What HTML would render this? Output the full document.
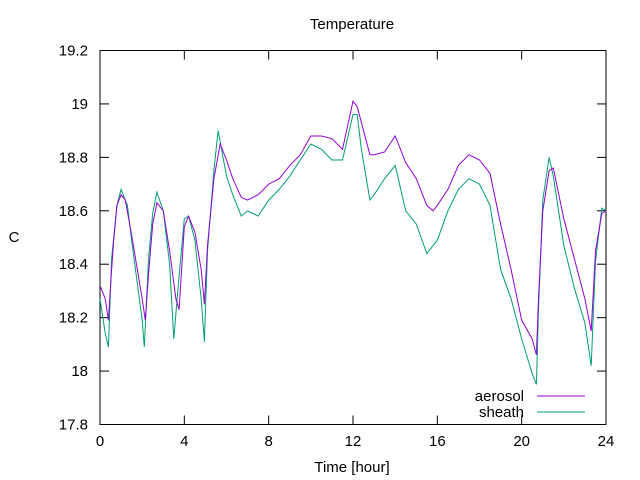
<!DOCTYPE html>
<html><head><meta charset="utf-8"><style>
html,body{margin:0;padding:0;background:#fff}
svg{display:block;font-family:"Liberation Sans",sans-serif}
</style></head><body>
<svg id="chart" width="640" height="480" viewBox="0 0 640 480" xmlns="http://www.w3.org/2000/svg">
<text x="352" y="29" text-anchor="middle" font-size="15">Temperature</text>
<text x="14" y="242" text-anchor="middle" font-size="15">C</text>
<text x="352" y="472" text-anchor="middle" font-size="15">Time [hour]</text>
<g id="axes"></g>
<g id="series"></g>
<g>
<text x="524" y="401" text-anchor="end" font-size="15">aerosol</text>
<line x1="537" y1="396" x2="585" y2="396" stroke="#9400d3" stroke-width="1"/>
<text x="524" y="417" text-anchor="end" font-size="15">sheath</text>
<line x1="537" y1="412" x2="585" y2="412" stroke="#009e73" stroke-width="1"/>
</g>
</svg>
<script>
const xTicks=[0,4,8,12,16,20,24];
const yTicks=[17.8,18,18.2,18.4,18.6,18.8,19,19.2];
const yTickLabels=["17.8","18","18.2","18.4","18.6","18.8","19","19.2"];
const aerosolHours=[0,.25,.4,.55,.65,.8,1,1.2,1.5,2,2.15,2.3,2.5,2.7,3,3.3,3.6,3.75,4,4.2,4.5,4.8,4.95,5.1,5.4,5.7,6,6.3,6.7,7,7.5,8,8.5,9,9.5,10,10.5,11,11.5,12,12.2,12.5,12.8,13,13.5,14,14.5,15,15.5,15.8,16,16.5,17,17.5,18,18.5,19,19.5,20,20.5,20.7,20.8,21,21.3,21.5,22,22.5,23,23.3,23.5,23.8,24];
const aerosolValues=[18.32,18.27,18.19,18.38,18.49,18.62,18.66,18.64,18.51,18.27,18.19,18.36,18.55,18.63,18.60,18.45,18.27,18.23,18.54,18.58,18.52,18.38,18.25,18.47,18.72,18.85,18.79,18.72,18.65,18.64,18.66,18.70,18.72,18.77,18.81,18.88,18.88,18.87,18.83,19.01,18.99,18.90,18.81,18.81,18.82,18.88,18.78,18.72,18.62,18.60,18.62,18.68,18.77,18.81,18.79,18.74,18.55,18.38,18.19,18.12,18.06,18.27,18.60,18.75,18.76,18.57,18.42,18.27,18.15,18.45,18.59,18.60];
const sheathHours=[0,.25,.4,.55,.8,1,1.3,1.5,2,2.1,2.3,2.5,2.7,3,3.3,3.5,3.7,4,4.2,4.5,4.8,4.95,5.1,5.4,5.6,6,6.3,6.7,7,7.5,8,8.5,9,9.5,10,10.5,11,11.5,12,12.2,12.4,12.8,13,13.5,14,14.5,15,15.5,16,16.5,17,17.5,18,18.5,19,19.5,20,20.5,20.7,20.8,21,21.3,21.5,22,22.5,23,23.3,23.5,23.8,24];
const sheathValues=[18.27,18.14,18.09,18.42,18.62,18.68,18.62,18.49,18.19,18.09,18.42,18.59,18.67,18.60,18.40,18.12,18.31,18.57,18.58,18.49,18.27,18.11,18.45,18.75,18.90,18.73,18.66,18.58,18.60,18.58,18.64,18.68,18.73,18.79,18.85,18.83,18.79,18.79,18.96,18.96,18.83,18.64,18.66,18.72,18.77,18.60,18.55,18.44,18.49,18.60,18.68,18.72,18.70,18.62,18.38,18.27,18.12,17.99,17.95,18.23,18.64,18.80,18.73,18.47,18.31,18.18,18.02,18.41,18.61,18.60];
const L=100,R=606,T=50.5,B=424.5,X0=0,X1=24,Y0=17.8,Y1=19.2;
const xs=h=>L+(h-X0)/(X1-X0)*(R-L);
const ys=v=>B-(v-Y0)/(Y1-Y0)*(B-T);
const NS="http://www.w3.org/2000/svg";
const axes=document.getElementById('axes');
const series=document.getElementById('series');
function mk(tag,attrs,parent){const e=document.createElementNS(NS,tag);for(const k in attrs)e.setAttribute(k,attrs[k]);parent.appendChild(e);return e;}
const frame=mk('rect',{x:L,y:T,width:R-L,height:B-T,fill:'none',stroke:'#000','stroke-width':1},axes);


xTicks.forEach(t=>{const x=xs(t);
 const a=mk('line',{x1:x,y1:B,x2:x,y2:B-9,stroke:'#000'},axes);
 
 
 const b=mk('line',{x1:x,y1:T,x2:x,y2:T+9,stroke:'#000'},axes);
 
 
 const tx=mk('text',{x:x,y:446,'text-anchor':'middle','font-size':15},axes);tx.textContent=String(t);
 
 
});
yTicks.forEach((t,i)=>{const y=ys(t);
 const a=mk('line',{x1:L,y1:y,x2:L+9,y2:y,stroke:'#000'},axes);
 
 
 const b=mk('line',{x1:R,y1:y,x2:R-9,y2:y,stroke:'#000'},axes);
 
 
 const tx=mk('text',{x:88,y:y+5,'text-anchor':'end','font-size':15},axes);tx.textContent=yTickLabels[i];
 
 
});
function line(hs,vs,color,name){
 const d=hs.map((h,i)=>(i?'L':'M')+xs(h).toFixed(1)+','+ys(vs[i]).toFixed(1)).join('');
 const p=mk('path',{d:d,fill:'none',stroke:color,'stroke-width':1},series);
 
 
}
line(sheathHours,sheathValues,'#009e73','sheath-line');
line(aerosolHours,aerosolValues,'#9400d3','aerosol-line');
</script>
</body></html>
